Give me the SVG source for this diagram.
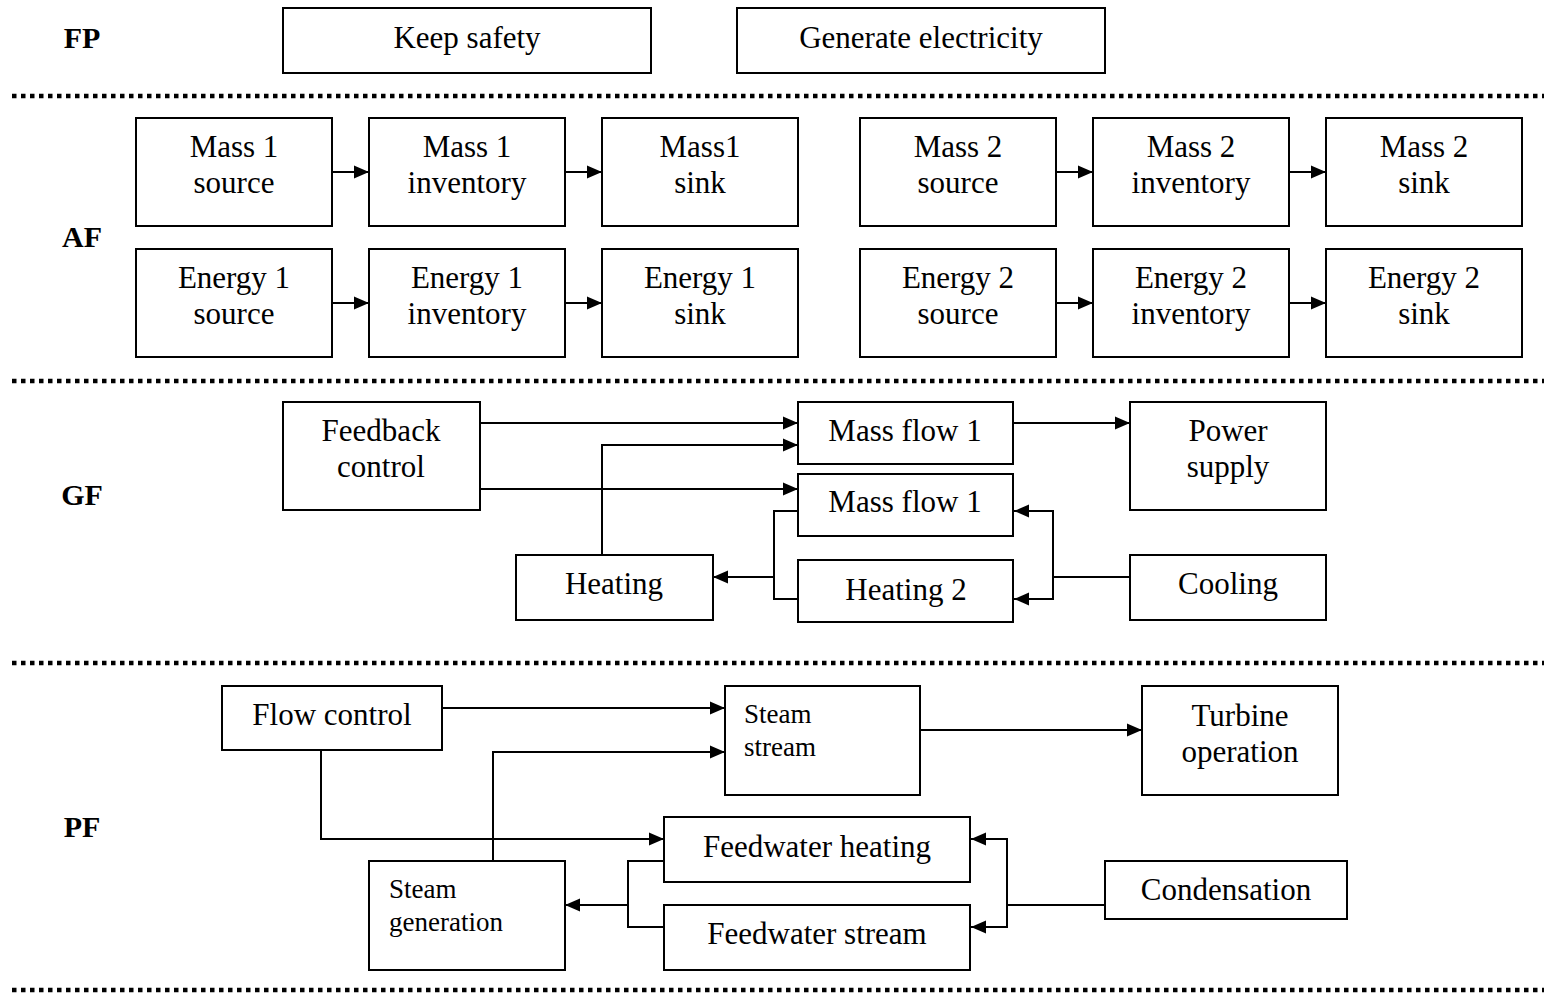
<svg xmlns="http://www.w3.org/2000/svg" width="1544" height="993" viewBox="0 0 1544 993">
<style>
.b{fill:#fff;stroke:#000;stroke-width:2}
.t{font-family:"Liberation Serif","Times New Roman",serif;font-size:31px;fill:#000;text-anchor:middle}
.s{font-family:"Liberation Serif","Times New Roman",serif;font-size:27px;fill:#000}
.lab{font-family:"Liberation Serif","Times New Roman",serif;font-size:30px;font-weight:bold;fill:#000;text-anchor:middle}
.d{stroke:#000;stroke-width:4.5;stroke-dasharray:4.5 4.5;fill:none}
.c{stroke:#000;stroke-width:2;fill:none;marker-end:url(#ah)}
.n{stroke:#000;stroke-width:2;fill:none}
</style>
<defs>
<marker id="ah" markerUnits="userSpaceOnUse" markerWidth="16" markerHeight="14" refX="15" refY="7" orient="auto">
<path d="M0,0.5 L15,7 L0,13.5 z" fill="#000"/>
</marker>
</defs>
<rect width="1544" height="993" fill="#fff"/>
<g id="separators">
<line class="d" x1="12" y1="96" x2="1544" y2="96"/>
<line class="d" x1="12" y1="381" x2="1544" y2="381"/>
<line class="d" x1="12" y1="663" x2="1544" y2="663"/>
<line class="d" x1="12" y1="990" x2="1544" y2="990"/>
</g>
<g id="labels">
<text class="lab" x="82" y="48">FP</text>
<text class="lab" x="82" y="247">AF</text>
<text class="lab" x="82" y="505">GF</text>
<text class="lab" x="82" y="837">PF</text>
</g>
<g id="connectors">
<line class="c" x1="332" y1="172" x2="369" y2="172"/>
<line class="c" x1="565" y1="172" x2="602" y2="172"/>
<line class="c" x1="1056" y1="172" x2="1093" y2="172"/>
<line class="c" x1="1289" y1="172" x2="1326" y2="172"/>
<line class="c" x1="332" y1="303" x2="369" y2="303"/>
<line class="c" x1="565" y1="303" x2="602" y2="303"/>
<line class="c" x1="1056" y1="303" x2="1093" y2="303"/>
<line class="c" x1="1289" y1="303" x2="1326" y2="303"/>
<line class="c" x1="480" y1="423" x2="798" y2="423"/>
<polyline class="c" points="602,555 602,445 798,445"/>
<line class="c" x1="480" y1="489" x2="798" y2="489"/>
<line class="c" x1="1013" y1="423" x2="1130" y2="423"/>
<polyline class="n" points="798,511 774,511 774,599 798,599"/>
<line class="c" x1="774" y1="577" x2="713" y2="577"/>
<line class="n" x1="1130" y1="577" x2="1053" y2="577"/>
<polyline class="c" points="1053,577 1053,511 1014,511"/>
<polyline class="c" points="1053,577 1053,599 1014,599"/>
<line class="c" x1="442" y1="708" x2="725" y2="708"/>
<polyline class="c" points="493,861 493,752 725,752"/>
<line class="c" x1="920" y1="730" x2="1142" y2="730"/>
<polyline class="c" points="321,750 321,839 664,839"/>
<polyline class="n" points="664,861 628,861 628,927 664,927"/>
<line class="c" x1="628" y1="905" x2="565" y2="905"/>
<line class="n" x1="1105" y1="905" x2="1007" y2="905"/>
<polyline class="c" points="1007,905 1007,839 971,839"/>
<polyline class="c" points="1007,905 1007,927 971,927"/>
</g>
<g id="fp-keep-safety"><rect class="b" x="283" y="8" width="368" height="65"/><text class="t" x="467" y="48">Keep safety</text></g>
<g id="fp-generate"><rect class="b" x="737" y="8" width="368" height="65"/><text class="t" x="921" y="48">Generate electricity</text></g>
<g id="af-m1src"><rect class="b" x="136" y="118" width="196" height="108"/><text class="t" x="234" y="157">Mass 1</text><text class="t" x="234" y="193">source</text></g>
<g id="af-m1inv"><rect class="b" x="369" y="118" width="196" height="108"/><text class="t" x="467" y="157">Mass 1</text><text class="t" x="467" y="193">inventory</text></g>
<g id="af-m1sink"><rect class="b" x="602" y="118" width="196" height="108"/><text class="t" x="700" y="157">Mass1</text><text class="t" x="700" y="193">sink</text></g>
<g id="af-m2src"><rect class="b" x="860" y="118" width="196" height="108"/><text class="t" x="958" y="157">Mass 2</text><text class="t" x="958" y="193">source</text></g>
<g id="af-m2inv"><rect class="b" x="1093" y="118" width="196" height="108"/><text class="t" x="1191" y="157">Mass 2</text><text class="t" x="1191" y="193">inventory</text></g>
<g id="af-m2sink"><rect class="b" x="1326" y="118" width="196" height="108"/><text class="t" x="1424" y="157">Mass 2</text><text class="t" x="1424" y="193">sink</text></g>
<g id="af-e1src"><rect class="b" x="136" y="249" width="196" height="108"/><text class="t" x="234" y="288">Energy 1</text><text class="t" x="234" y="324">source</text></g>
<g id="af-e1inv"><rect class="b" x="369" y="249" width="196" height="108"/><text class="t" x="467" y="288">Energy 1</text><text class="t" x="467" y="324">inventory</text></g>
<g id="af-e1sink"><rect class="b" x="602" y="249" width="196" height="108"/><text class="t" x="700" y="288">Energy 1</text><text class="t" x="700" y="324">sink</text></g>
<g id="af-e2src"><rect class="b" x="860" y="249" width="196" height="108"/><text class="t" x="958" y="288">Energy 2</text><text class="t" x="958" y="324">source</text></g>
<g id="af-e2inv"><rect class="b" x="1093" y="249" width="196" height="108"/><text class="t" x="1191" y="288">Energy 2</text><text class="t" x="1191" y="324">inventory</text></g>
<g id="af-e2sink"><rect class="b" x="1326" y="249" width="196" height="108"/><text class="t" x="1424" y="288">Energy 2</text><text class="t" x="1424" y="324">sink</text></g>
<g id="gf-feedback"><rect class="b" x="283" y="402" width="197" height="108"/><text class="t" x="381" y="441">Feedback</text><text class="t" x="381" y="477">control</text></g>
<g id="gf-massflow1a"><rect class="b" x="798" y="402" width="215" height="62"/><text class="t" x="905" y="441">Mass flow 1</text></g>
<g id="gf-power"><rect class="b" x="1130" y="402" width="196" height="108"/><text class="t" x="1228" y="441">Power</text><text class="t" x="1228" y="477">supply</text></g>
<g id="gf-massflow1b"><rect class="b" x="798" y="474" width="215" height="62"/><text class="t" x="905" y="512">Mass flow 1</text></g>
<g id="gf-heating"><rect class="b" x="516" y="555" width="197" height="65"/><text class="t" x="614" y="594">Heating</text></g>
<g id="gf-heating2"><rect class="b" x="798" y="560" width="215" height="62"/><text class="t" x="906" y="600">Heating 2</text></g>
<g id="gf-cooling"><rect class="b" x="1130" y="555" width="196" height="65"/><text class="t" x="1228" y="594">Cooling</text></g>
<g id="pf-flowcontrol"><rect class="b" x="222" y="686" width="220" height="64"/><text class="t" x="332" y="725">Flow control</text></g>
<g id="pf-steamstream"><rect class="b" x="725" y="686" width="195" height="109"/><text class="s" x="744" y="723">Steam</text><text class="s" x="744" y="756">stream</text></g>
<g id="pf-turbine"><rect class="b" x="1142" y="686" width="196" height="109"/><text class="t" x="1240" y="726">Turbine</text><text class="t" x="1240" y="762">operation</text></g>
<g id="pf-fwheating"><rect class="b" x="664" y="817" width="306" height="65"/><text class="t" x="817" y="857">Feedwater heating</text></g>
<g id="pf-steamgen"><rect class="b" x="369" y="861" width="196" height="109"/><text class="s" x="389" y="898">Steam</text><text class="s" x="389" y="931">generation</text></g>
<g id="pf-fwstream"><rect class="b" x="664" y="905" width="306" height="65"/><text class="t" x="817" y="944">Feedwater stream</text></g>
<g id="pf-condensation"><rect class="b" x="1105" y="861" width="242" height="58"/><text class="t" x="1226" y="900">Condensation</text></g>
</svg>
